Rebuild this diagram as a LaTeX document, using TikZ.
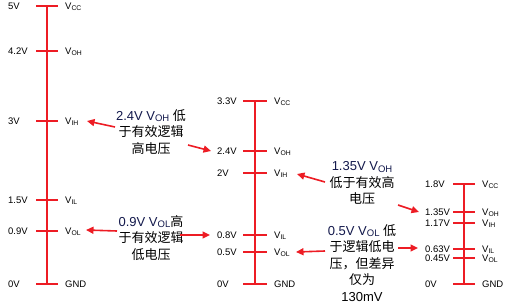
\documentclass[tikz,border=0pt]{standalone}
\usepackage{fontspec}
\setmainfont{Liberation Sans}
\newfontfamily\cjk{Noto Sans CJK SC}
\usetikzlibrary{arrows.meta}
\definecolor{myred}{RGB}{237,28,36}
\definecolor{navy}{RGB}{18,24,75}
\newcommand\sbs[1]{\raisebox{-1.3pt}{\fontsize{6.8}{7}\selectfont #1}}
\newcommand\bsub[1]{\raisebox{-1.5pt}{\fontsize{9.5}{10}\selectfont #1}}
\tikzset{
  axisline/.style={myred, line width=2.8pt},
  tickline/.style={myred, line width=2.2pt},
  lbl/.style={anchor=base west, inner sep=0pt, font=\fontsize{9.5}{11}\selectfont},
  arr/.style={myred, line width=1.6pt, -{Triangle[length=7.5pt,width=7pt]}},
  blk/.style={align=center, font=\fontsize{13}{16.5}\selectfont, inner sep=0pt},
}
\begin{document}
\begin{tikzpicture}[x=1pt,y=-1pt]
\useasboundingbox (0,0) rectangle (510,305);
% scale 1
\draw[axisline] (47,6) coordinate (s1top) -- (47,284) coordinate (s1bot);
\foreach \y/\l/\r [count=\i] in {6/5V/V\sbs{CC},51/4.2V/V\sbs{OH},121/3V/V\sbs{IH},200/1.5V/V\sbs{IL},231/0.9V/V\sbs{OL},284/0V/GND}{
  \draw[tickline] (36,\y) -- (58,\y);
  \node[lbl] (s1l\i) at (8,\y+3.5) {\l};
  \node[lbl] (s1r\i) at (65,\y+3.5) {\r};
}
% scale 2
\draw[axisline] (255,101) coordinate (s2top) -- (255,284) coordinate (s2bot);
\foreach \y/\l/\r [count=\i] in {101/3.3V/V\sbs{CC},151/2.4V/V\sbs{OH},173/2V/V\sbs{IH},235/0.8V/V\sbs{IL},252/0.5V/V\sbs{OL},284/0V/GND}{
  \draw[tickline] (243,\y) -- (267,\y);
  \node[lbl] (s2l\i) at (217,\y+3.5) {\l};
  \node[lbl] (s2r\i) at (274,\y+3.5) {\r};
}
% scale 3
\draw[axisline] (464,184) coordinate (s3top) -- (464,284) coordinate (s3bot);
\foreach \y/\l/\r [count=\i] in {184/1.8V/V\sbs{CC},212/1.35V/V\sbs{OH},223/1.17V/V\sbs{IH},249/0.63V/V\sbs{IL},258/0.45V/V\sbs{OL},284/0V/GND}{
  \draw[tickline] (453,\y) -- (475,\y);
  \node[lbl] (s3l\i) at (425,\y+3.5) {\l};
  \node[lbl] (s3r\i) at (482,\y+3.5) {\r};
}
% text blocks
\node[blk] (b1) at (151,132) {{\color{navy}2.4V V\bsub{OH}} {\cjk 低}\\{\cjk 于有效逻辑}\\{\cjk 高电压}};
\node[blk] (b2) at (151,238) {{\color{navy}0.9V V\bsub{OL}}{\cjk 高}\\{\cjk 于有效逻辑}\\{\cjk 低电压}};
\node[blk] (b3) at (362,183) {{\color{navy}1.35V V\bsub{OH}}\\{\cjk 低于有效高}\\{\cjk 电压}};
\node[blk] (b4) at (362,263) {{\color{navy}0.5V V\bsub{OL}} {\cjk 低}\\{\cjk 于逻辑低电}\\{\cjk 压，但差异}\\{\cjk 仅为}\\130mV};
% connector ends
\coordinate (a1s) at (115,127); \coordinate (a1e) at (87,121);
\coordinate (a2s) at (188,145); \coordinate (a2e) at (211,151);
\coordinate (a3s) at (117,231); \coordinate (a3e) at (86,230);
\coordinate (a4s) at (180,235); \coordinate (a4e) at (210,235);
\coordinate (a5s) at (325,182); \coordinate (a5e) at (297,174);
\coordinate (a6s) at (398,205); \coordinate (a6e) at (419,212);
\coordinate (a7s) at (325,251); \coordinate (a7e) at (296,252);
\coordinate (a8s) at (398,248); \coordinate (a8e) at (418,248);
\foreach \k in {1,...,8}{ \draw[arr] (a\k s) -- (a\k e); }
\end{tikzpicture}
\end{document}
